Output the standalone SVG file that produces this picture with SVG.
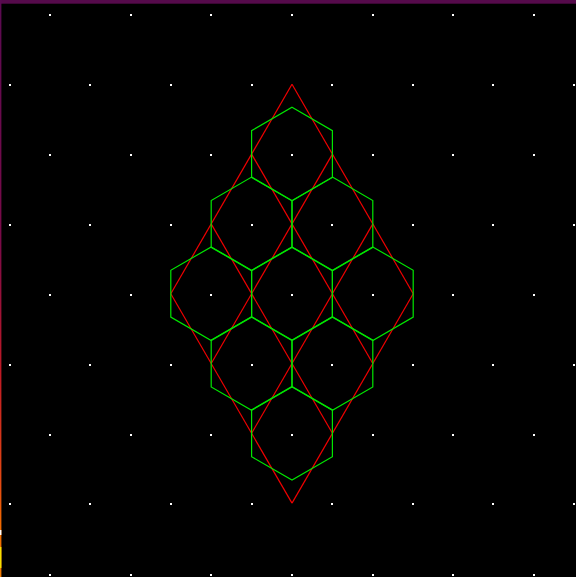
<svg xmlns="http://www.w3.org/2000/svg" xmlns:xlink="http://www.w3.org/1999/xlink" width="576" height="577" viewBox="0 0 576 577">
  <defs>
    <linearGradient id="edge" x1="0" y1="0" x2="0" y2="577" gradientUnits="userSpaceOnUse">
      <stop offset="0" stop-color="#5a0a52"/>
      <stop offset="0.42" stop-color="#7a0a48"/>
      <stop offset="0.65" stop-color="#c01a24"/>
      <stop offset="0.84" stop-color="#e44a12"/>
      <stop offset="0.91" stop-color="#f06a00"/>
      <stop offset="1" stop-color="#f07a00"/>
    </linearGradient>
    <polygon id="hex" points="0,-46.8 40.4,-23.4 40.4,23.4 0,46.8 -40.4,23.4 -40.4,-23.4"/>
    <rect id="dot" x="0" y="0" width="2" height="2"/>
  </defs>
  <style>
    .hexagon { fill: none; stroke: #00e600; stroke-width: 1.2; }
    .red { fill: none; stroke: #f00000; stroke-width: 1.2; }
    .dots use { fill: #ffffff; }
  </style>

  <rect x="0" y="0" width="576" height="577" fill="#000000"/>
  <rect x="0" y="0" width="576" height="3.7" fill="#550a4b"/>
  <rect x="0" y="0" width="1.4" height="577" fill="url(#edge)"/>
  <rect x="0" y="530" width="1.4" height="5" fill="#ffffff"/>
  <rect x="0" y="547" width="1.4" height="21" fill="#f5e000"/>

  <g class="dots" id="dots">
    <use xlink:href="#dot" x="49" y="14"/><use xlink:href="#dot" x="130" y="14"/><use xlink:href="#dot" x="210" y="14"/><use xlink:href="#dot" x="291" y="14"/><use xlink:href="#dot" x="372" y="14"/><use xlink:href="#dot" x="452" y="14"/><use xlink:href="#dot" x="533" y="14"/>
    <use xlink:href="#dot" x="9" y="84"/><use xlink:href="#dot" x="89" y="84"/><use xlink:href="#dot" x="170" y="84"/><use xlink:href="#dot" x="251" y="84"/><use xlink:href="#dot" x="331" y="84"/><use xlink:href="#dot" x="412" y="84"/><use xlink:href="#dot" x="492" y="84"/><use xlink:href="#dot" x="573" y="84"/>
    <use xlink:href="#dot" x="49" y="154"/><use xlink:href="#dot" x="130" y="154"/><use xlink:href="#dot" x="210" y="154"/><use xlink:href="#dot" x="291" y="154"/><use xlink:href="#dot" x="372" y="154"/><use xlink:href="#dot" x="452" y="154"/><use xlink:href="#dot" x="533" y="154"/>
    <use xlink:href="#dot" x="9" y="224"/><use xlink:href="#dot" x="89" y="224"/><use xlink:href="#dot" x="170" y="224"/><use xlink:href="#dot" x="251" y="224"/><use xlink:href="#dot" x="331" y="224"/><use xlink:href="#dot" x="412" y="224"/><use xlink:href="#dot" x="492" y="224"/><use xlink:href="#dot" x="573" y="224"/>
    <use xlink:href="#dot" x="49" y="294"/><use xlink:href="#dot" x="130" y="294"/><use xlink:href="#dot" x="210" y="294"/><use xlink:href="#dot" x="291" y="294"/><use xlink:href="#dot" x="372" y="294"/><use xlink:href="#dot" x="452" y="294"/><use xlink:href="#dot" x="533" y="294"/>
    <use xlink:href="#dot" x="9" y="364"/><use xlink:href="#dot" x="89" y="364"/><use xlink:href="#dot" x="170" y="364"/><use xlink:href="#dot" x="251" y="364"/><use xlink:href="#dot" x="331" y="364"/><use xlink:href="#dot" x="412" y="364"/><use xlink:href="#dot" x="492" y="364"/><use xlink:href="#dot" x="573" y="364"/>
    <use xlink:href="#dot" x="49" y="434"/><use xlink:href="#dot" x="130" y="434"/><use xlink:href="#dot" x="210" y="434"/><use xlink:href="#dot" x="291" y="434"/><use xlink:href="#dot" x="372" y="434"/><use xlink:href="#dot" x="452" y="434"/><use xlink:href="#dot" x="533" y="434"/>
    <use xlink:href="#dot" x="9" y="503"/><use xlink:href="#dot" x="89" y="503"/><use xlink:href="#dot" x="170" y="503"/><use xlink:href="#dot" x="251" y="503"/><use xlink:href="#dot" x="331" y="503"/><use xlink:href="#dot" x="412" y="503"/><use xlink:href="#dot" x="492" y="503"/><use xlink:href="#dot" x="573" y="503"/>
    <use xlink:href="#dot" x="49" y="574"/><use xlink:href="#dot" x="130" y="574"/><use xlink:href="#dot" x="210" y="574"/><use xlink:href="#dot" x="291" y="574"/><use xlink:href="#dot" x="372" y="574"/><use xlink:href="#dot" x="452" y="574"/><use xlink:href="#dot" x="533" y="574"/>
  </g>

  <g id="connectors" class="red">
    <line x1="292" y1="84.3" x2="413.2" y2="293.7"/>
    <line x1="251.6" y1="154.1" x2="372.8" y2="363.5"/>
    <line x1="211.2" y1="223.9" x2="332.4" y2="433.3"/>
    <line x1="170.8" y1="293.7" x2="292" y2="503.1"/>
    <line x1="292" y1="84.3" x2="170.8" y2="293.7"/>
    <line x1="332.4" y1="154.1" x2="211.2" y2="363.5"/>
    <line x1="372.8" y1="223.9" x2="251.6" y2="433.3"/>
    <line x1="413.2" y1="293.7" x2="292" y2="503.1"/>
  </g>

  <g id="hexagons" class="hexagon">
    <g id="hex-0-0"><use xlink:href="#hex" x="292" y="154.1"/></g>
    <g id="hex-1-0"><use xlink:href="#hex" x="251.6" y="223.9"/></g>
    <g id="hex-1-1"><use xlink:href="#hex" x="332.4" y="223.9"/></g>
    <g id="hex-2-0"><use xlink:href="#hex" x="211.2" y="293.7"/></g>
    <g id="hex-2-1"><use xlink:href="#hex" x="292" y="293.7"/></g>
    <g id="hex-2-2"><use xlink:href="#hex" x="372.8" y="293.7"/></g>
    <g id="hex-3-0"><use xlink:href="#hex" x="251.6" y="363.5"/></g>
    <g id="hex-3-1"><use xlink:href="#hex" x="332.4" y="363.5"/></g>
    <g id="hex-4-0"><use xlink:href="#hex" x="292" y="433.3"/></g>
  </g>
</svg>
